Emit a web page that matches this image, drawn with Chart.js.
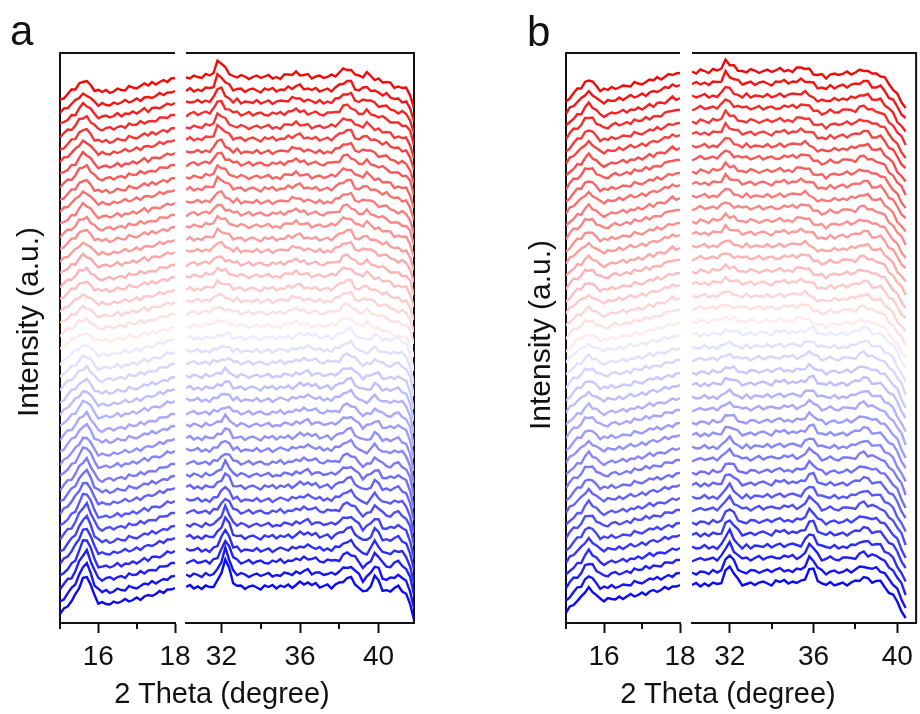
<!DOCTYPE html>
<html>
<head>
<meta charset="utf-8">
<script src="https://cdn.jsdelivr.net/npm/chart.js@4.4.0/dist/chart.umd.min.js"></script>
<style>
  html, body { margin: 0; overflow: hidden; }
  body { background: #fff; width: 920px; height: 714px; position: relative; font-family: "Liberation Sans", Arial, sans-serif; }
  canvas { position: absolute; }
  .txt { position: absolute; color: #111; white-space: nowrap; line-height: 1; }
  .letter { font-size: 42px; }
  .xtitle { font-size: 29px; transform: translateX(-50%); }
  .ytitle { font-size: 30px; transform: translate(-50%, -50%) rotate(-90deg); }
</style>
</head>
<body>
<canvas id="aLeft" width="175" height="643" style="left:30px;top:40px"></canvas>
<canvas id="aRight" width="288" height="643" style="left:156px;top:40px"></canvas>
<canvas id="bLeft" width="174" height="643" style="left:536px;top:40px"></canvas>
<canvas id="bRight" width="258" height="643" style="left:662px;top:40px"></canvas>
<div class="txt letter" style="left:10px;top:10px">a</div>
<div class="txt letter" style="left:527px;top:11px">b</div>
<div class="txt xtitle" style="left:222px;top:679px">2 Theta (degree)</div>
<div class="txt xtitle" style="left:728px;top:679px">2 Theta (degree)</div>
<div class="txt ytitle" style="left:28px;top:322px">Intensity (a.u.)</div>
<div class="txt ytitle" style="left:540px;top:335px">Intensity (a.u.)</div>

<script>
// 2 theta grids (degree)
const xLeft = [15.0, 15.1, 15.2, 15.3, 15.4, 15.5, 15.6, 15.7, 15.8, 15.9, 16.0, 16.1, 16.2, 16.3, 16.4, 16.5, 16.6, 16.7, 16.8, 16.9, 17.0, 17.1, 17.2, 17.3, 17.4, 17.5, 17.6, 17.7, 17.8, 17.9, 18.0]
const xRightA = [30.2, 30.4, 30.6, 30.8, 31.0, 31.2, 31.4, 31.6, 31.8, 32.0, 32.2, 32.4, 32.6, 32.8, 33.0, 33.2, 33.4, 33.6, 33.8, 34.0, 34.2, 34.4, 34.6, 34.8, 35.0, 35.2, 35.4, 35.6, 35.8, 36.0, 36.2, 36.4, 36.6, 36.8, 37.0, 37.2, 37.4, 37.6, 37.8, 38.0, 38.2, 38.4, 38.6, 38.8, 39.0, 39.2, 39.4, 39.6, 39.8, 40.0, 40.2, 40.4, 40.6, 40.8, 41.0, 41.2, 41.4, 41.6, 41.8]
const xRightB = [30.2, 30.4, 30.6, 30.8, 31.0, 31.2, 31.4, 31.6, 31.8, 32.0, 32.2, 32.4, 32.6, 32.8, 33.0, 33.2, 33.4, 33.6, 33.8, 34.0, 34.2, 34.4, 34.6, 34.8, 35.0, 35.2, 35.4, 35.6, 35.8, 36.0, 36.2, 36.4, 36.6, 36.8, 37.0, 37.2, 37.4, 37.6, 37.8, 38.0, 38.2, 38.4, 38.6, 38.8, 39.0, 39.2, 39.4, 39.6, 39.8, 40.0, 40.2, 40.4]

// tick labels
const majorLeft = [16, 18]
const minorLeft = [15, 17]
const majorRight = [32, 36, 40]
const minorRight = [34, 38]

// vertical offset of each pattern (bottom blue = 0, top red = 41)
const offsetsA = [35, 47, 60, 72, 85, 97, 110, 122, 135, 147, 159, 172, 184, 197, 209, 222, 234, 246, 259, 271, 284, 296, 309, 321, 333, 346, 358, 371, 383, 396, 408, 420, 433, 445, 458, 470, 483, 495, 508, 520, 532, 545]
const offsetsB = [38, 50, 63, 75, 88, 100, 113, 125, 138, 150, 163, 175, 188, 200, 213, 225, 238, 250, 263, 275, 288, 300, 313, 325, 338, 350, 363, 375, 388, 400, 413, 425, 438, 450, 463, 475, 488, 500, 513, 525, 538, 550]

// panel a, 15-18 degree
const bgLeftARed = [-22, -19, -16, -14, -13, -12, -12, -12, -13, -13, -14, -14, -14, -14, -13, -12, -12, -11, -10, -10, -9, -8, -7, -7, -6, -5, -4, -3, -2, -1, 0]
const pkLeftARed = [0, 0, 0, 0.05, 0.2, 0.55, 0.95, 0.9, 0.5, 0.2, 0.06, 0, 0, 0, 0, 0, 0, 0, 0, 0, 0, 0, 0, 0, 0, 0, 0, 0, 0, 0, 0]
const bgLeftABlue = [-26, -22, -18, -16, -15, -15, -15, -15, -16, -16, -17, -17, -16, -16, -15, -14, -14, -13, -12, -12, -11, -10, -9, -8, -7, -6, -5, -4, -2, -1, 0]
const pkLeftABlue = [0, 0, 0.02, 0.08, 0.25, 0.55, 0.9, 1, 0.65, 0.3, 0.1, 0.03, 0, 0, 0, 0, 0, 0, 0, 0, 0, 0, 0, 0, 0, 0, 0, 0, 0, 0, 0]
const hLeftA = [28, 28, 27, 27, 26, 25, 24, 23, 22, 21, 20, 19, 18, 17, 16, 15, 14, 13, 12, 11, 10,
  6, 7, 7, 8, 8, 9, 9, 10, 10, 10, 11, 11, 11, 12, 12, 12, 12, 11, 11, 10, 10]

// panel a, 30-42 degree
const bgRightARed = [0, 1, 1, 1, 2, 2, 3, 3, 4, 4, 4, 3, 2, 2, 1, 1, 1, 1, 1, 1, 1, 1, 1, 1, 1, 2, 3, 4, 5, 4, 3, 2, 2, 1, 1, 1, 1, 2, 3, 5, 8, 10, 8, 3, 1, 2, 4, 2, -1, -2, -3, -4, -6, -8, -9, -10, -11, -17, -30]
const pkRightARed = [0, 0, 0, 0, 0, 0, 0, 0.15, 0.9, 0.9, 0.35, 0.1, 0, 0, 0, 0, 0, 0, 0, 0, 0, 0, 0, 0, 0, 0, 0, 0, 0, 0, 0, 0, 0, 0, 0, 0, 0, 0, 0, 0, 0, 0, 0, 0, 0, 0, 0, 0, 0, 0, 0, 0, 0, 0, 0, 0, 0, 0, 0]
const bgRightABlue = [1, 1, 1, 1, 1, 1, 1, 2, 2, 2, 2, 2, 1, 1, 1, 1, 1, 1, 1, 1, 1, 1, 1, 1, 2, 2, 2, 2, 3, 4, 5, 5, 4, 3, 2, 2, 2, 2, 3, 4, 7, 10, 9, 5, 2, 0, 0, 1, 3, 2, 0, -1, -1, 0, 0, -2, -5, -14, -32]
const pkRightABlue = [0, 0, 0, 0, 0, 0, 0, 0, 0.15, 0.55, 1, 0.6, 0.2, 0.05, 0, 0, 0, 0, 0, 0, 0, 0, 0, 0, 0, 0, 0, 0, 0, 0, 0, 0, 0, 0, 0, 0, 0, 0, 0, 0, 0, 0, 0, 0, -0.05, -0.18, -0.1, 0.1, 0.3, 0.2, -0.05, -0.12, -0.08, 0, 0.03, 0, -0.05, -0.05, 0]
const hRightA = [26, 24, 22, 20, 18, 16, 14, 13, 12, 11, 10, 9, 8, 7, 6, 6, 5, 5, 4, 4, 3,
  2, 3, 3, 4, 4, 5, 5, 6, 6, 7, 7, 8, 8, 9, 9, 10, 10, 11, 11, 12, 13]

// panel b, 15-18 degree
const bgLeftBRed = [-29, -24, -20, -18, -17, -16, -16, -16, -17, -17, -17, -17, -16, -15, -14, -14, -13, -12, -11, -11, -10, -9, -8, -7, -6, -5, -4, -2, 0, -1, 0]
const bgLeftBBlue = [-28, -23, -19, -17, -16, -15, -15, -15, -15, -15, -15, -15, -14, -14, -13, -13, -12, -11, -10, -10, -9, -8, -7, -6, -6, -5, -4, -3, -2, -1, 0]
const pkLeftB = [0, 0, 0, 0.05, 0.2, 0.6, 1, 0.75, 0.3, 0.08, 0, 0, 0, 0, 0, 0, 0, 0, 0, 0, 0, 0, 0, 0, 0, 0, 0, 0, 0, 0, 0]
const hLeftB = [13, 13, 13, 12, 12, 12, 11, 11, 11, 10, 10, 10, 9, 9, 9, 8, 8, 8, 7, 7, 6,
  5, 6, 6, 6, 7, 7, 7, 8, 8, 8, 8, 9, 9, 9, 9, 10, 10, 10, 10, 10, 10]

// panel b, 30-41 degree
const bgRightBRed = [1, 1, 2, 2, 2, 2, 3, 3, 3, 3, 3, 2, 2, 2, 2, 2, 2, 2, 2, 2, 2, 3, 3, 3, 3, 4, 5, 5, 3, 0, -2, -3, -3, -2, -2, -1, -1, 0, 0, 0, 2, 4, 2, -1, -2, -2, -6, -11, -16, -22, -28, -35]
const pkRightBRed = [0, 0, 0, 0, 0, 0, 0, 0.15, 1, 0.7, 0.25, 0.08, 0, 0, 0, 0, 0, 0, 0, 0, 0, 0, 0, 0, 0, 0, 0, 0, 0, 0, 0, 0, 0, 0, 0, 0, 0, 0, 0, 0, 0, 0, 0, 0, 0, 0, 0, 0, 0, 0, 0, 0]
const bgRightBBlue = [0, 0, 0, 1, 1, 1, 1, 1, 2, 2, 2, 1, 1, 1, 1, 2, 2, 2, 2, 2, 3, 3, 3, 3, 3, 3, 3, 4, 5, 4, 2, 1, 1, 1, 1, 1, 1, 2, 2, 3, 5, 8, 5, 2, 1, 0, -3, -6, -11, -17, -25, -35]
const pkRightBBlue = [0, 0, 0, 0, 0, 0, 0, 0.1, 0.6, 1, 0.5, 0.15, 0, 0, 0, 0, 0, 0, 0, 0, 0, 0, 0, 0, 0, 0, 0, 0.2, 0.6, 0.55, 0.2, 0, 0, 0, 0, 0, 0, 0, 0, 0, 0, 0, 0, 0.1, 0.2, 0.15, 0.05, 0, 0, 0, 0, 0]
const hRightB = [18, 17, 16, 15, 14, 13, 12, 11, 10, 9, 9, 8, 7, 7, 6, 5, 5, 4, 4, 3, 3,
  2, 2, 3, 3, 4, 4, 4, 5, 5, 5, 6, 6, 6, 7, 7, 7, 8, 8, 8, 9, 9]

// counting noise
const noiseLeft = [
  [0, 1.5, -1, 0.5, 2, -0.5, 0, -2, 1, 0.5, -1.5, 2, 0, -0.5, 1.5, -1, 0.5, 2, -1.5, 0, 1.5, -2, 0.5, 1, -1, 0, 2, -1, 0.5, -0.5, 0],
  [0.5, -1.5, 0, 2, -0.5, 1, -1.5, 0, 1, -2, 1.5, 0, 2, -1, -0.5, 1.5, 0, -1.5, 2, 0.5, -1.5, 0, 1.5, -0.5, 2, -1.5, 0, 1, -2, 0.5, 0],
  [-0.5, 1, 1.5, -1.5, 0, 2, -2, 1, 0, 1, -0.5, -1.5, 1, 2, -1.5, 0, 1, -2, 1.5, 0, -0.5, 2, -1.5, 0.5, 0, -1.5, 1.5, 0.5, -1, 1, 0],
  [1.5, 0, -1, 1.5, -1.5, 0.5, 1.5, -1.5, 2, 0, -2, 0.5, 1.5, -0.5, 0, 2, -1.5, 0.5, -1, 1.5, -1.5, 0, 2, -2, 1, 0.5, -1.5, 0, 1.5, -1, 0]
]
const noiseRight = [
  [0, 2, -1.5, 0.5, -2, 1.5, 0, -1, 2, -1.5, 0.5, 2.5, -1.5, 0, 1.5, -2, 0.5, 1.5, -0.5, -2.5, 1.5, 0, 2, -1.5, 0.5, -1, 1.5, -2, 0, 2.5, -1.5, 0.5, -1, 2, -1.5, 0, 1.5, -2.5, 0.5, 1.5, -1, 0, 2, -1.5, -0.5, 1.5, 0, -2, 1.5, 0.5, -1.5, 2, -0.5, 0, 1.5, -1.5, 0.5, -0.5, 0],
  [0.5, -1.5, 1.5, 0, -2, 2, -0.5, 0, 1.5, -1.5, 2.5, -0.5, 0, -1.5, 2, 0.5, -2, 0, 1.5, -1, 0.5, 2, -1.5, 0, -2, 1.5, 0.5, -1, 1.5, -1.5, 0, 2, -2.5, 0.5, 1.5, -1, 0, 1.5, -1.5, 0.5, 1.5, -2, 0, 0.5, 1.5, -1.5, 2, 0, -1, 1.5, -1.5, 0, 1.5, -2, 0.5, 0, 1.5, -0.5, 0],
  [-1.5, 0.5, 2, -1, 0, 1.5, -1.5, 2, -0.5, 0, -2, 1.5, 0.5, 1.5, -1.5, 0, 2, -1.5, 0.5, 1.5, -1, -1.5, 1.5, 0, 2, -2, 0.5, 0, 1.5, -1, 1.5, -1.5, 0, 2.5, -0.5, -1.5, 1.5, 0.5, 0, -2, 1.5, 0.5, -1.5, 2, 0, -1, 1.5, -1.5, 0.5, -0.5, 2, 0, -1.5, 0.5, 1.5, -1, 0, 1.5, 0],
  [1.5, -0.5, 0, 2, -1.5, 0.5, -2, 1.5, 0, 1.5, -1, 0.5, -1.5, 2.5, -1.5, 0.5, 0, -1, 2, -1.5, 0, 1.5, -2, 0.5, 1.5, 0, -1.5, 2, -0.5, 0.5, -1.5, 1.5, 0, -1, 2, -1.5, 0.5, -2, 1.5, 0, 0.5, -1.5, 2, -0.5, 0, 1.5, -1.5, 0.5, 1.5, -2, 0, 1.5, -0.5, 0.5, -1.5, 2, 0, -0.5, 0]
]

const nBlue = 21

// red-white-blue colour map, i = 0 is the bottom curve
const curveColor = (i) => {
  if (i < nBlue) {
    const u = i / (nBlue - 1)
    const c = Math.round(10 + 225 * u)
    return `rgb(${c},${c},${Math.round(245 + 10 * u)})`
  }
  const t = (41 - i) / 20
  const c = Math.round(10 + 225 * t)
  return `rgb(${Math.round(240 + 15 * t)},${c},${c})`
}

const buildCurves = (x, offsets, bgRed, pkRed, bgBlue, pkBlue, heights, noises) => {
  return offsets.map((off, i) => {
    const blue = i < nBlue
    const bg = blue ? bgBlue : bgRed
    const pk = blue ? pkBlue : pkRed
    const nz = noises[i % noises.length]
    return x.map((xv, j) => ({ x: xv, y: off + bg[j] + heights[i] * pk[j] + (nz[j] || 0) }))
  })
}

// frame (top + side line) and minor ticks
const framePlugin = {
  id: 'frame',
  beforeDatasetsDraw(chart, args, opts) {
    const { ctx, chartArea: a } = chart
    const xScale = chart.scales.x
    ctx.save()
    ctx.strokeStyle = '#111'
    ctx.lineWidth = 2
    ctx.beginPath()
    ctx.moveTo(a.left, a.top)
    ctx.lineTo(a.right, a.top)
    if (opts.side === 'left') {
      ctx.moveTo(a.left, a.top - 1)
      ctx.lineTo(a.left, a.bottom)
    } else {
      ctx.moveTo(a.right, a.top - 1)
      ctx.lineTo(a.right, a.bottom)
    }
    ctx.stroke()
    ctx.beginPath()
    opts.minors.forEach(v => {
      const px = Math.round(xScale.getPixelForValue(v))
      ctx.moveTo(px, a.bottom)
      ctx.lineTo(px, a.bottom + 6)
    })
    ctx.stroke()
    ctx.restore()
  }
}

const makeSegment = (id, curves, xMin, xMax, majors, minors, side, padRight) => {
  new Chart(document.getElementById(id), {
    type: 'line',
    data: {
      datasets: curves.map((pts, i) => ({
        data: pts,
        borderColor: curveColor(i),
        borderWidth: 2.4,
        pointRadius: 0,
        tension: 0,
        fill: false
      }))
    },
    options: {
      responsive: false,
      animation: false,
      devicePixelRatio: 1,
      events: [],
      layout: { padding: { left: 30, right: padRight, top: 13, bottom: 0 } },
      plugins: {
        legend: { display: false },
        tooltip: { enabled: false },
        frame: { side: side, minors: minors }
      },
      scales: {
        x: {
          type: 'linear',
          min: xMin,
          max: xMax,
          afterBuildTicks: s => { s.ticks = majors.map(v => ({ value: v })) },
          afterFit: s => { s.height = 60 },
          ticks: {
            color: '#111',
            font: { family: 'Liberation Sans', size: 28 },
            padding: 7,
            maxRotation: 0,
            autoSkip: false,
            callback: v => v
          },
          grid: { drawOnChartArea: false, drawTicks: true, tickLength: 10, tickWidth: 2, tickColor: '#111' },
          border: { display: true, color: '#111', width: 2 }
        },
        y: { display: false, min: 0, max: 570 }
      }
    },
    plugins: [framePlugin]
  })
}

makeSegment('aLeft', buildCurves(xLeft, offsetsA, bgLeftARed, pkLeftARed, bgLeftABlue, pkLeftABlue, hLeftA, noiseLeft), 15, 18, majorLeft, minorLeft, 'left', 30)
makeSegment('aRight', buildCurves(xRightA, offsetsA, bgRightARed, pkRightARed, bgRightABlue, pkRightABlue, hRightA, noiseRight), 30.2, 41.8, majorRight, minorRight, 'right', 30)
makeSegment('bLeft', buildCurves(xLeft, offsetsB, bgLeftBRed, pkLeftB, bgLeftBBlue, pkLeftB, hLeftB, noiseLeft), 15, 18, majorLeft, minorLeft, 'left', 30)
makeSegment('bRight', buildCurves(xRightB, offsetsB, bgRightBRed, pkRightBRed, bgRightBBlue, pkRightBBlue, hRightB, noiseRight), 30.2, 40.9, majorRight, minorRight, 'right', 2)
</script>
</body>
</html>
